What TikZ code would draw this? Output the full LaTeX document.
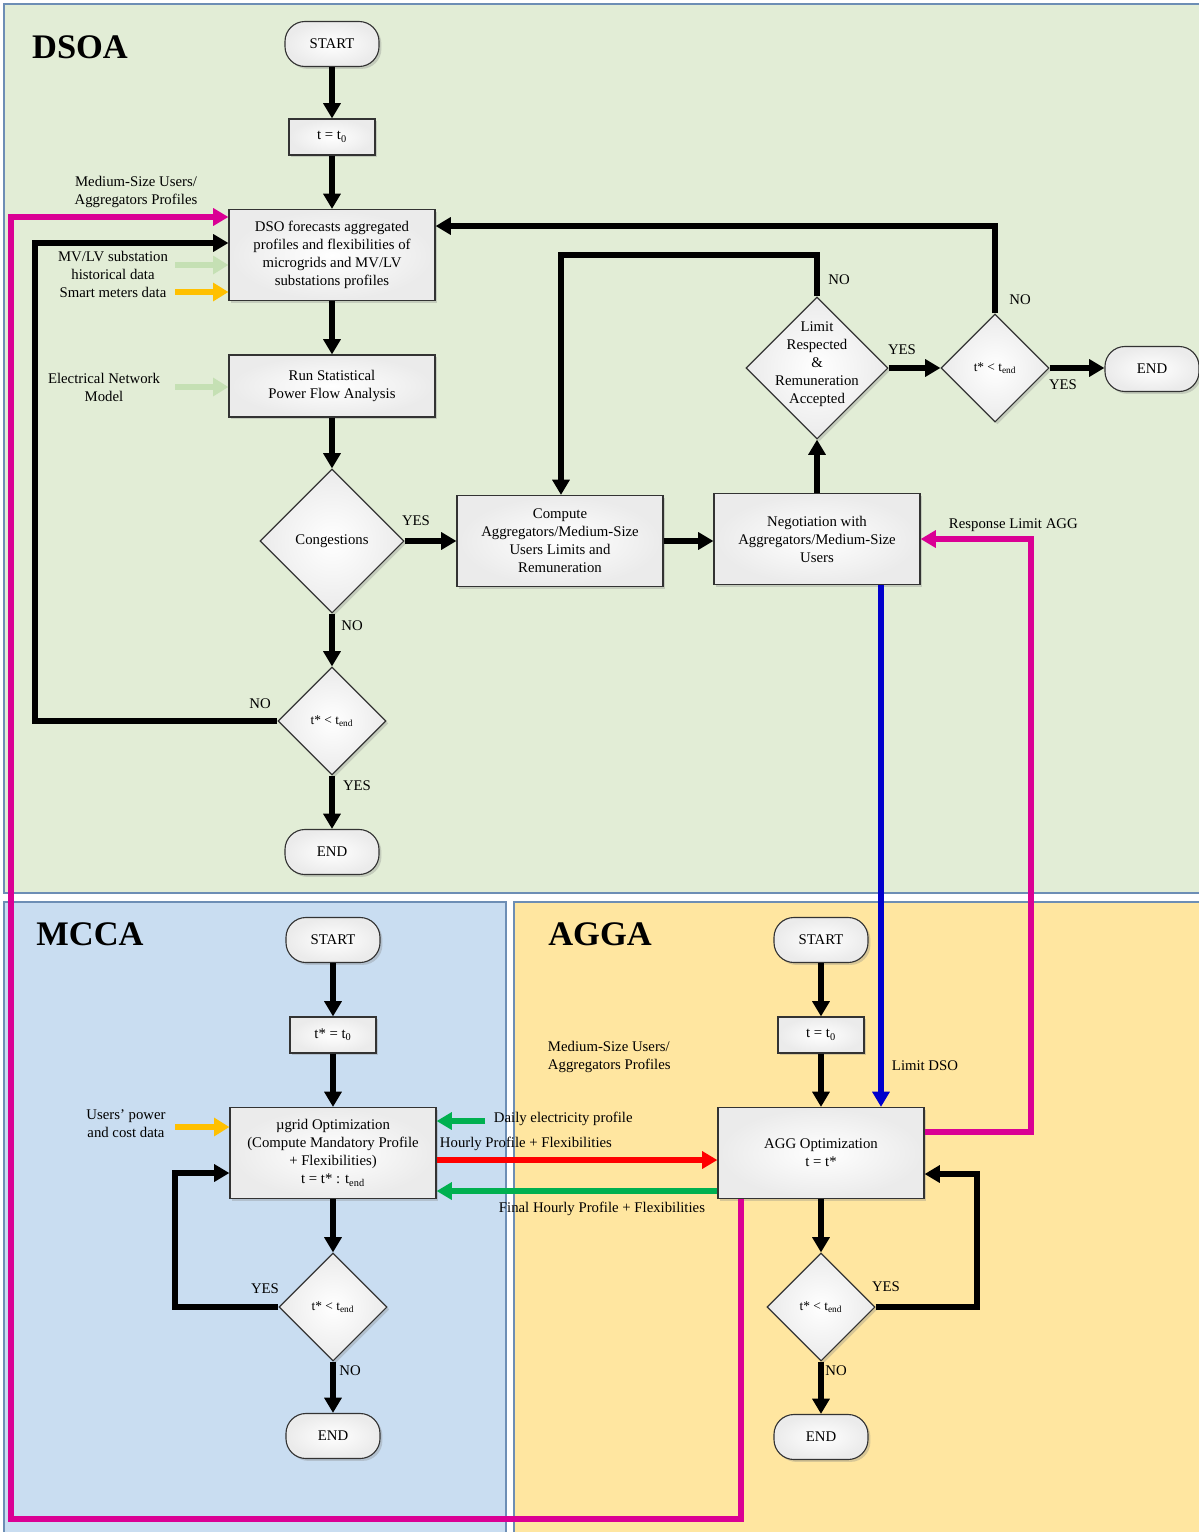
\documentclass[tikz,border=0pt]{standalone}
\usepackage{fontspec}
\setmainfont{Liberation Serif}
\usetikzlibrary{arrows.meta,positioning,shapes.geometric,shadows}

\definecolor{dsoabg}{HTML}{E2EDD6}
\definecolor{mccabg}{HTML}{C9DDF1}
\definecolor{aggabg}{HTML}{FFE6A0}
\definecolor{panelline}{HTML}{6D8EB5}
\definecolor{magflow}{HTML}{DA0094}
\definecolor{blueflow}{HTML}{0000CC}
\definecolor{redflow}{HTML}{FF0000}
\definecolor{greenflow}{HTML}{00B050}
\definecolor{lgreen}{HTML}{C5E0B4}
\definecolor{orangein}{HTML}{FFC000}

\newcommand{\dtext}[1]{\smash{\makebox[0pt]{\begin{tabular}{@{}c@{}}#1\end{tabular}}}}
\newcommand{\tstarend}{{\fontsize{9.5}{11}\selectfont t* < t\textsubscript{end}}}

\begin{document}
\begin{tikzpicture}[
    x=0.025cm, y=-0.025cm,
    every node/.style={font=\fontsize{10.5}{12.8}\selectfont},
    panel/.style={draw=panelline, line width=0.8pt},
    title/.style={font=\fontsize{24.5}{29}\selectfont\bfseries},
    box/.style={draw=black!80, line width=0.8pt, align=center, inner color=white, outer color=black!8,
        drop shadow={opacity=0.3, shadow xshift=0.6mm, shadow yshift=-0.6mm}},
    term/.style={box, rounded corners=0.5cm, minimum width=2.35cm, minimum height=1.125cm},
    stepbox/.style={box, minimum width=2.15cm, minimum height=0.9cm},
    proc/.style={box, minimum width=5.15cm, minimum height=2.275cm},
    decision/.style={box, diamond, aspect=1, inner sep=0pt},
    flow/.style={-{Triangle[width=4.2mm, length=3.8mm]}, line width=4pt},
    mflow/.style={-{Triangle[width=4.2mm, length=3.8mm]}, line width=3.6pt, draw=magflow},
    bflow/.style={-{Triangle[width=4.2mm, length=3.8mm]}, line width=3.6pt, draw=blueflow},
    rflow/.style={-{Triangle[width=4.2mm, length=3.8mm]}, line width=3.6pt, draw=redflow},
    gflow/.style={-{Triangle[width=4.2mm, length=3.8mm]}, line width=3.6pt, draw=greenflow},
    lgin/.style={-{Triangle[width=4.4mm, length=3.8mm]}, line width=4.2pt, draw=lgreen},
    orin/.style={-{Triangle[width=4.4mm, length=3.8mm]}, line width=4.2pt, draw=orangein}
]
\useasboundingbox (0,0) rectangle (1198,1532);

% panels
\draw[panel, fill=dsoabg] (4,4) rectangle (1204,893);
\draw[panel, fill=mccabg] (4,902) rectangle (506,1538);
\draw[panel, fill=aggabg] (514,902) rectangle (1204,1538);

% DSOA
\node[title] (dsoat) at (80,47) {DSOA};
\node[term] (start1) at (332,44) {START};
\node[stepbox] (tzero1) at (332,137) {t = t\textsubscript{0}};
\node[proc] (forecast) at (332,255) {DSO forecasts aggregated\\profiles and flexibilities of\\microgrids and MV/LV\\substations profiles};
\node[proc, minimum height=1.55cm] (powerflow) at (332,386) {Run Statistical\\Power Flow Analysis};
\node[decision, minimum size=3.6cm] (congest) at (332,541) {Congestions};
\node[decision, minimum size=2.7cm] (check1) at (332,721) {\tstarend};
\node[term] (end1) at (332,852) {END};
\node[proc] (compute) at (560,541) {Compute\\Aggregators/Medium-Size\\Users Limits and\\Remuneration};
\node[proc] (negotiate) at (817,539) {Negotiation with\\Aggregators/Medium-Size\\Users};
\node[decision, minimum size=3.55cm] (accept) at (817,368) {\dtext{Limit\\Respected\\\&\\Remuneration\\Accepted}};
\node[decision, minimum size=2.7cm] (check2) at (995,368) {\tstarend};
\node[term] (end2) at (1152,369) {END};

% MCCA
\node[title] (mccat) at (90,934) {MCCA};
\node[term] (mstart) at (333,940) {START};
\node[stepbox] (mtzero) at (333,1035) {t* = t\textsubscript{0}};
\node[proc] (mgopt) at (333,1153) {µgrid Optimization\\(Compute Mandatory Profile\\+ Flexibilities)\\t = t* : t\textsubscript{end}};
\node[decision, minimum size=2.7cm] (mcheck) at (333,1307) {\tstarend};
\node[term] (mend) at (333,1436) {END};

% AGGA
\node[title] (aggat) at (600,934) {AGGA};
\node[term] (astart) at (821,940) {START};
\node[stepbox] (atzero) at (821,1035) {t = t\textsubscript{0}};
\node[proc] (aggopt) at (821,1153) {AGG Optimization\\t = t*};
\node[decision, minimum size=2.7cm] (acheck) at (821,1307) {\tstarend};
\node[term] (aend) at (821,1437) {END};

\coordinate (dloop) at (35,243);
\coordinate (rloop) at (561,255);
\coordinate (tloop) at (995,226);
\coordinate (bl) at (881,0);
\coordinate (rl) at (1031,1132);
\coordinate (ml) at (741,1519);
\coordinate (mt) at (11,217);
\coordinate (mloop) at (175,1173);
\coordinate (aloop) at (977,1174);
\coordinate (hd) at (175,265);
\coordinate (sm) at (175,292);
\coordinate (en) at (175,387);
\coordinate (up) at (175,1127);
\coordinate (dp) at (485,1121);
\coordinate (hp) at (600,1160);
\coordinate (fp) at (600,1191);

\draw[mflow] (ml |- aggopt.south) -- (ml) -| (mt) -- (mt -| forecast.west);
\draw[mflow] (rl -| aggopt.east) -- (rl) |- (negotiate.east);
\draw[bflow] (negotiate.south -| bl) -- (aggopt.north -| bl);

\draw[flow] (start1) -- (tzero1);
\draw[flow] (tzero1) -- (forecast);
\draw[flow] (forecast) -- (powerflow);
\draw[flow] (powerflow) -- (congest);
\draw[flow] (congest) -- (check1);
\draw[flow] (check1) -- (end1);
\draw[flow] (check1.west) -| (dloop) -- (dloop -| forecast.west);
\draw[flow] (congest.east) -- (congest.east -| compute.west);
\draw[flow] (compute.east) -- (compute.east -| negotiate.west);
\draw[flow] (negotiate) -- (accept);
\draw[flow] (accept.north) |- (rloop) -- (rloop |- compute.north);
\draw[flow] (accept.east) -- (check2.west);
\draw[flow] (check2.north) |- (tloop -| forecast.east);
\draw[flow] (check2.east) -- (check2.east -| end2.west);
\draw[lgin] (hd) -- (hd -| forecast.west);
\draw[orin] (sm) -- (sm -| forecast.west);
\draw[lgin] (en) -- (en -| powerflow.west);

\draw[flow] (mstart) -- (mtzero);
\draw[flow] (mtzero) -- (mgopt);
\draw[flow] (mgopt) -- (mcheck);
\draw[flow] (mcheck) -- (mend);
\draw[flow] (mcheck.west) -| (mloop) -- (mloop -| mgopt.west);
\draw[orin] (up) -- (up -| mgopt.west);

\draw[flow] (astart) -- (atzero);
\draw[flow] (atzero) -- (aggopt);
\draw[flow] (aggopt) -- (acheck);
\draw[flow] (acheck) -- (aend);
\draw[flow] (acheck.east) -| (aloop) -- (aloop -| aggopt.east);

\draw[gflow] (dp) -- (dp -| mgopt.east);
\draw[rflow] (hp -| mgopt.east) -- (hp -| aggopt.west);
\draw[gflow] (fp -| aggopt.west) -- (fp -| mgopt.east);

% labels
\node[align=center] (lmed) at (136,192) {Medium-Size Users/\\Aggregators Profiles};
\node[align=center] (lhist) at (113,265) {MV/LV substation\\historical data};
\node (lsmart) at (113,292) {Smart meters data};
\node[align=center] (lnet) at (104,387) {Electrical Network\\Model};
\node (ly1) at (416,521) {YES};
\node (ln1) at (352,626) {NO};
\node (ln2) at (260,704) {NO};
\node (ly2) at (357,786) {YES};
\node (ln3) at (839,280) {NO};
\node (ly3) at (902,350) {YES};
\node (ln4) at (1020,300) {NO};
\node (ly4) at (1063,385) {YES};
\node[anchor=west] (lresp) at (944,525) {Response Limit AGG};
\node[anchor=west] (llim) at (887,1066) {Limit DSO};
\node[anchor=west, align=left] (lmed2) at (543,1057) {Medium-Size Users/\\Aggregators Profiles};
\node[align=center] (lusr) at (126,1124) {Users’ power\\and cost data};
\node[anchor=west] (ldaily) at (489,1119) {Daily electricity profile};
\node[anchor=west] (lhour) at (435,1144) {Hourly Profile + Flexibilities};
\node[anchor=west] (lfinal) at (494,1209) {Final Hourly Profile + Flexibilities};
\node (ly5) at (265,1289) {YES};
\node (ln5) at (350,1371) {NO};
\node (ly6) at (886,1287) {YES};
\node (ln6) at (836,1371) {NO};
\end{tikzpicture}
\end{document}
